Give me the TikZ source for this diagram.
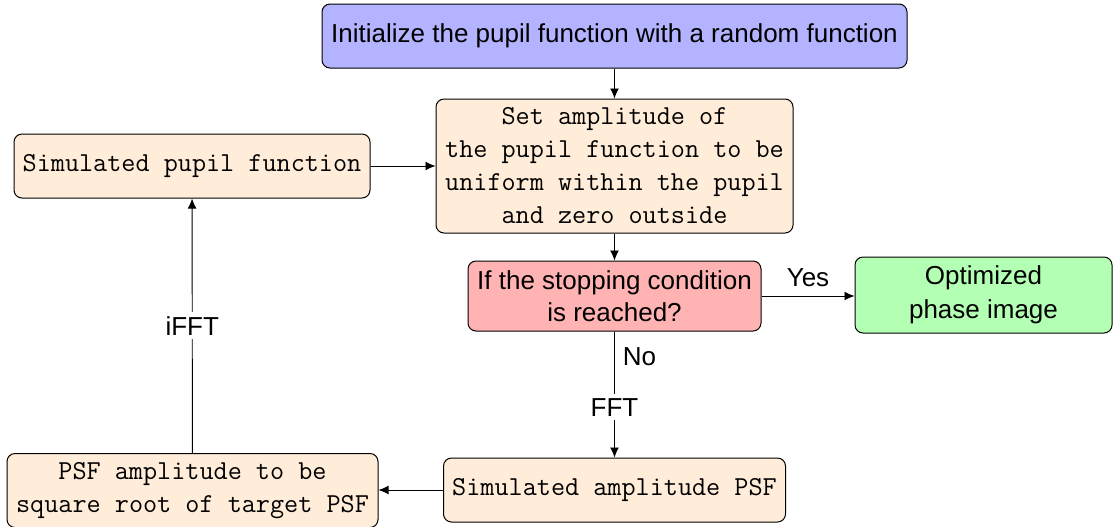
\documentclass[tikz,border=0pt]{standalone}
\usepackage{fontspec}
\newfontfamily\flowsans{Liberation Sans}
\usetikzlibrary{arrows.meta}
\definecolor{initblue}{HTML}{B3B3FF}
\definecolor{condred}{HTML}{FFB3B3}
\definecolor{donegreen}{HTML}{B3FFB3}
\definecolor{procorange}{HTML}{FFECD9}
\tikzset{
  box/.style={draw=black, line width=0.5pt, rounded corners=4pt, rectangle,
    inner sep=0pt, align=center},
  sanstext/.style={font=\flowsans\fontsize{13}{16}\selectfont},
  monotext/.style={font=\ttfamily\fontsize{13.7}{16.5}\selectfont},
  process/.style={box, monotext, fill=procorange},
  flow/.style={line width=0.45pt, -{Latex[length=5pt,width=4.4pt]}},
  lbl/.style={sanstext, inner sep=2pt}
}
\begin{document}
\begin{tikzpicture}[x=0.5pt, y=-0.5pt]
  \useasboundingbox (0,0) rectangle (1113,526);

  % steps of the loop
  \node[box, sanstext, fill=initblue, minimum width=292.5pt, minimum height=32pt]
    (init) at (614.5,36) {Initialize the pupil function with a random function};
  \node[process, minimum width=178.5pt, minimum height=67pt]
    (setamp) at (614.5,166) {Set amplitude of\\the pupil function to be\\uniform within the pupil\\and zero outside};
  \node[process, minimum width=178pt, minimum height=32pt]
    (simpupil) at (192,166) {Simulated pupil function};
  \node[box, sanstext, fill=condred, minimum width=146.5pt, minimum height=35pt]
    (cond) at (614.5,296) {If the stopping condition\\is reached?};
  \node[box, font=\flowsans\fontsize{13}{17}\selectfont, fill=donegreen,
        minimum width=128.5pt, minimum height=38pt]
    (opt) at (983.5,295) {Optimized\\phase image};
  \node[process, minimum width=171pt, minimum height=32pt]
    (simpsf) at (614.5,490) {Simulated amplitude PSF};
  \node[process, minimum width=185.5pt, minimum height=37pt]
    (psfamp) at (192.5,490.5) {PSF amplitude to be\\square root of target PSF};

  % connectors
  \draw[flow] (init) -- (setamp);
  \draw[flow] (setamp) -- (cond);
  \draw[flow] (cond.east) -- node[lbl, above, inner sep=4.5pt] {Yes} (cond.east -| opt.west);
  \draw[flow] (cond) -- node[lbl, pos=0.2, right, inner sep=4pt] {No}
                        node[lbl, pos=0.6, fill=white] {FFT} (simpsf);
  \draw[flow] (simpsf) -- (simpsf.west -| psfamp.east);
  \draw[flow] (psfamp) -- node[lbl, midway, fill=white] {iFFT} (simpupil);
  \draw[flow] (simpupil) -- (simpupil -| setamp.west);
\end{tikzpicture}
\end{document}
